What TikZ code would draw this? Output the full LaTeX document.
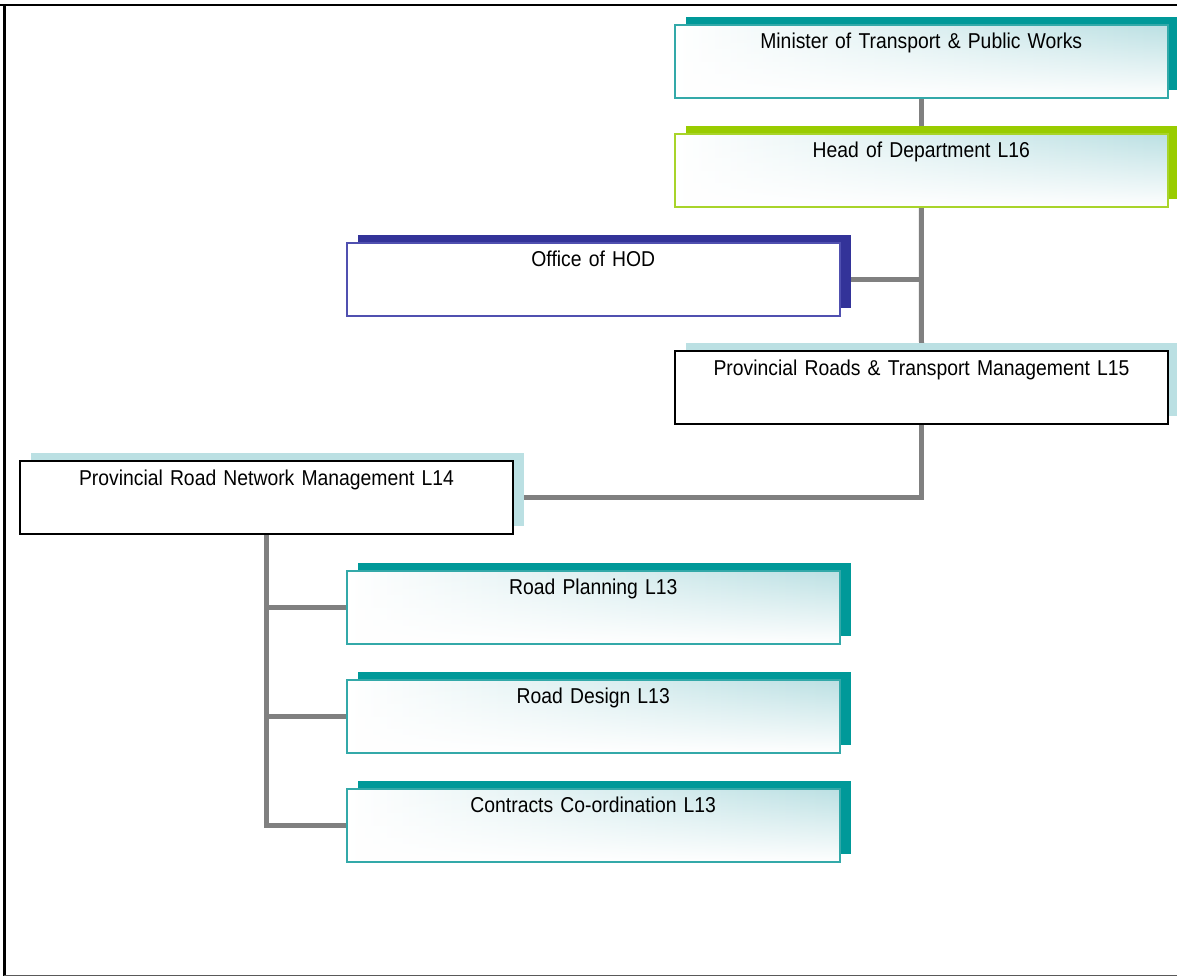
\documentclass[tikz,border=0pt]{standalone}
\usepackage{fontspec}
\setmainfont{Liberation Sans}[FakeStretch=0.9]
\usetikzlibrary{shadows,fadings}
\definecolor{tealS}{HTML}{009999}
\definecolor{tealB}{HTML}{33A9A9}
\definecolor{greenS}{HTML}{99CC00}
\definecolor{greenB}{HTML}{A8D42A}
\definecolor{navyS}{HTML}{333399}
\definecolor{navyB}{HTML}{5050B0}
\definecolor{lblue}{HTML}{BBE0E3}
\definecolor{conn}{HTML}{808080}
\pgfdeclarelayer{bg}
\pgfsetlayers{bg,main}
\begin{document}
\begin{tikzpicture}[x=1pt,y=-1pt,
  orgbox/.style={rectangle, anchor=north west, minimum width=493pt, text width=493pt,
    inner sep=0pt, align=center, text height=24pt, text depth=49pt, line width=1.5pt,
    font=\fontsize{21.5}{25}\selectfont},
  grad/.style={fill=white, path picture={
    \shade[left color=white, right color=lblue] (path picture bounding box.south west) rectangle (path picture bounding box.north east);
    \fill[white, path fading=north] (path picture bounding box.south west) rectangle (path picture bounding box.north east);
  }},
  shad/.style={general shadow={fill=#1, shadow xshift=11pt, shadow yshift=8pt}},
  tealbox/.style={orgbox, grad, draw=tealB, shad=tealS},
  greenbox/.style={orgbox, grad, draw=greenB, shad=greenS},
  navybox/.style={orgbox, fill=white, draw=navyB, shad=navyS},
  blackbox/.style={orgbox, fill=white, draw=black, line width=2pt, shad=lblue},
  link/.style={draw=conn, line width=5pt}
]
\useasboundingbox (0,0) rectangle (1177,977);

% frame
\draw[black, line width=2.5pt] (0,5) -- (1177,5);
\draw[black, line width=3pt] (4,4) -- (4,976);
\draw[black!65, line width=1.5pt] (4,975.5) -- (1177,975.5);

% boxes
\node[tealbox] (min) at (674,24) {Minister of Transport \& Public Works};
\node[greenbox] (hod) at (674,133) {Head of Department L16};
\node[navybox] (off) at (346,242) {Office of HOD};
\node[blackbox] (prtm) at (674,350) {Provincial Roads \& Transport Management L15};
\node[blackbox] (prnm) at (19,460) {Provincial Road Network Management L14};
\node[tealbox] (rp) at (346,570) {Road Planning L13};
\node[tealbox] (rd) at (346,679) {Road Design L13};
\node[tealbox] (cc) at (346,788) {Contracts Co-ordination L13};

% connectors
\begin{pgfonlayer}{bg}
\draw[link] (min.south) -- (hod.north);
\draw[link] (hod.south) -- (prtm.north);
\draw[link] (off.east) -- (off.east -| hod.south);
\draw[link] (prtm.south) |- (prnm.east);
\draw[link] (prnm.south) |- (cc.west);
\draw[link] (rp.west) -- (rp.west -| prnm.south);
\draw[link] (rd.west) -- (rd.west -| prnm.south);
\end{pgfonlayer}
\end{tikzpicture}
\end{document}
